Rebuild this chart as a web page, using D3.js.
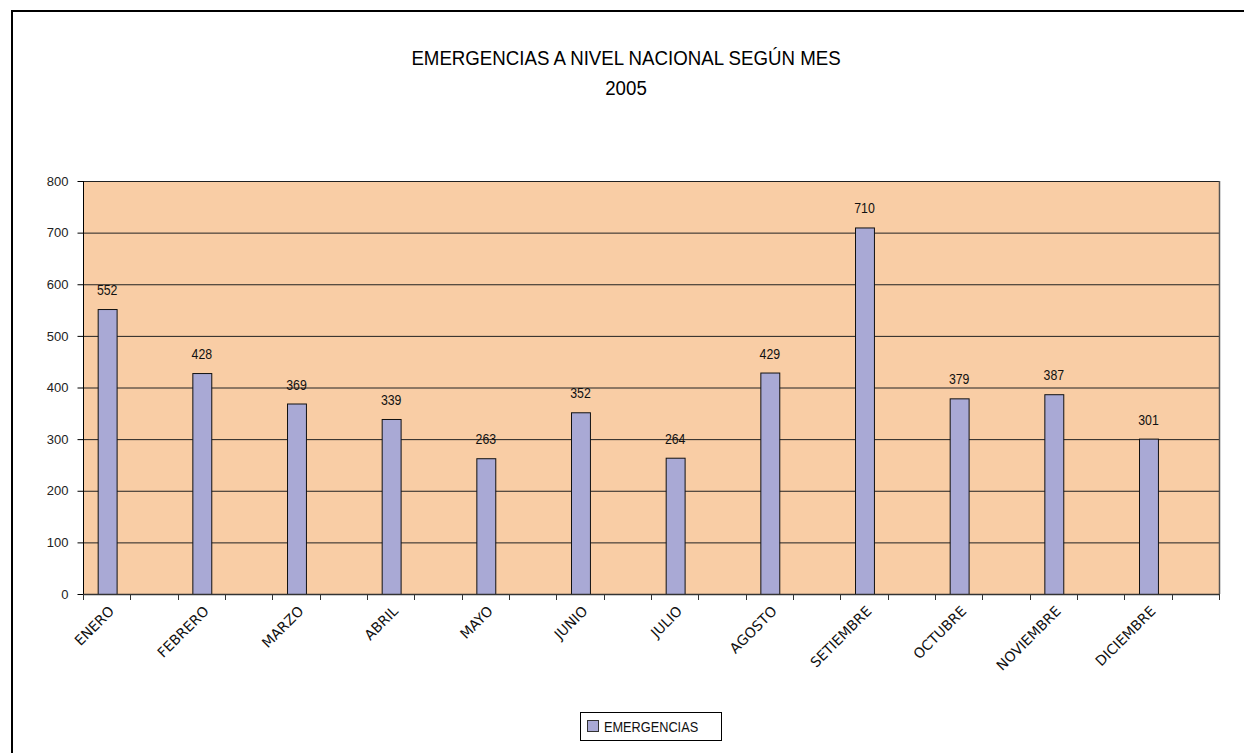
<!DOCTYPE html>
<html>
<head>
<meta charset="utf-8">
<script src="https://cdn.jsdelivr.net/npm/d3@7"></script>
<style>
  body { margin: 0; background: #fff; }
  svg { display: block; }
</style>
</head>
<body>
<div class="chart"></div>
<script>
'use strict';

// data
var months = ["ENERO", "FEBRERO", "MARZO", "ABRIL", "MAYO", "JUNIO", "JULIO",
              "AGOSTO", "SETIEMBRE", "OCTUBRE", "NOVIEMBRE", "DICIEMBRE"];
var emergencias = [552, 428, 369, 339, 263, 352, 264, 429, 710, 379, 387, 301];
var yTicks = [0, 100, 200, 300, 400, 500, 600, 700, 800];
var seriesName = "EMERGENCIAS";
var titleLines = ["EMERGENCIAS A NIVEL NACIONAL SEGÚN MES", "2005"];

var W = 1244, H = 753;
var plot = {left: 83, top: 181, right: 1219, bottom: 594};

// no narrow font installed, so squeeze Liberation Sans horizontally
var sans = "'Liberation Sans', Arial, sans-serif";
function narrowText(sel, x, y, sx){
      return sel.attr("transform", "translate(" + x + "," + y + ") scale(" + sx + ",1)")
                .style("font-family", sans);
}

var svg = d3.select(".chart")
            .append("svg")
            .attr("width", W)
            .attr("height", H);

// outer chart border (only left/top visible in the picture)
svg.append("rect")
   .attr("x", 12).attr("y", 11)
   .attr("width", W + 20).attr("height", H + 20)
   .attr("fill", "none")
   .attr("stroke", "#000")
   .attr("stroke-width", 2);

// title
titleLines.forEach(function(t, i){
      narrowText(svg.append("text"), 626, 65 + i * 30, 0.89)
         .attr("text-anchor", "middle")
         .style("font-size", "21px")
         .attr("fill", "#000")
         .text(t);
});

// scales
var x = d3.scaleBand()
          .domain(months)
          .range([plot.left, plot.right])
          .padding(0);

var y = d3.scaleLinear()
          .domain([0, 800])
          .range([plot.bottom, plot.top]);

// plot area background
svg.append("rect")
   .attr("x", plot.left).attr("y", plot.top)
   .attr("width", plot.right - plot.left)
   .attr("height", plot.bottom - plot.top)
   .attr("fill", "#F9CDA5");

// gridlines
svg.append("g").selectAll("line")
   .data(yTicks.slice(1))
   .enter().append("line")
   .attr("x1", plot.left).attr("x2", plot.right)
   .attr("y1", function(d){ return y(d) + 0.5; })
   .attr("y2", function(d){ return y(d) + 0.5; })
   .attr("stroke", "#222")
   .attr("stroke-width", 1);

// right border of plot with a little shadow
svg.append("line")
   .attr("x1", plot.right + 0.5).attr("x2", plot.right + 0.5)
   .attr("y1", plot.top).attr("y2", plot.bottom)
   .attr("stroke", "#555").attr("stroke-width", 1.5);

// bars (sit left of the category centre, like the Excel original)
var bw = x.bandwidth();
svg.append("g").selectAll("rect")
   .data(emergencias)
   .enter().append("rect")
   .attr("x", function(d, i){ return x(months[i]) + bw * 0.155 + 0.5; })
   .attr("y", function(d){ return y(d) + 0.5; })
   .attr("width", bw * 0.2)
   .attr("height", function(d){ return plot.bottom - y(d); })
   .attr("fill", "#A9A9D5")
   .attr("stroke", "#111")
   .attr("stroke-width", 1);

// value labels
var vl = svg.append("g").selectAll("text")
   .data(emergencias)
   .enter().append("text");
vl.each(function(d, i){
      narrowText(d3.select(this), x(months[i]) + bw * 0.255, y(d) - 14, 0.85);
   })
   .attr("text-anchor", "middle")
   .style("font-size", "14.5px")
   .attr("fill", "#111")
   .text(function(d){ return d; });

// y axis
var yAxis = svg.append("g")
               .attr("transform", "translate(" + (plot.left + 0.5) + ",0)")
               .call(d3.axisLeft(y).tickValues(yTicks).tickSize(6).tickPadding(9).tickFormat(d3.format("d")));
yAxis.select(".domain").attr("stroke", "#000").attr("d", "M0," + plot.top + "V" + (plot.bottom + 6));
yAxis.selectAll(".tick line").attr("stroke", "#000");
yAxis.selectAll(".tick text")
     .style("font-family", sans)
     .style("font-size", "13px")
     .attr("fill", "#222");

// x axis: ticks at every half category
var halfTicks = d3.range(0, months.length * 2 + 1).map(function(k){ return plot.left + k * bw / 2; });
svg.append("line")
   .attr("x1", plot.left).attr("x2", plot.right)
   .attr("y1", plot.bottom + 0.5).attr("y2", plot.bottom + 0.5)
   .attr("stroke", "#333").attr("stroke-width", 1.5);
svg.append("g").selectAll("line")
   .data(halfTicks)
   .enter().append("line")
   .attr("x1", function(d){ return Math.round(d) + 0.5; })
   .attr("x2", function(d){ return Math.round(d) + 0.5; })
   .attr("y1", plot.bottom).attr("y2", plot.bottom + 6)
   .attr("stroke", "#333");

// category labels rotated
svg.append("g").selectAll("text")
   .data(months)
   .enter().append("text")
   .attr("transform", function(d){
       var cx = x(d) + bw * 0.255 + 8;
       return "translate(" + cx + ",612) rotate(-45)";
   })
   .attr("text-anchor", "end")
   .style("font-family", "'DejaVu Sans', Verdana, sans-serif")
   .style("font-size", "14px")
   .attr("fill", "#111")
   .text(function(d){ return d; });

// legend
var legend = svg.append("g");
legend.append("rect")
      .attr("x", 580.5).attr("y", 712.5)
      .attr("width", 141).attr("height", 28)
      .attr("fill", "#fff").attr("stroke", "#000");
legend.append("rect")
      .attr("x", 587.5).attr("y", 720.5)
      .attr("width", 11).attr("height", 11)
      .attr("fill", "#A9A9D5").attr("stroke", "#333");
narrowText(legend.append("text"), 604, 732, 0.85)
      .style("font-size", "15px")
      .attr("fill", "#111")
      .text(seriesName);
</script>
</body>
</html>
